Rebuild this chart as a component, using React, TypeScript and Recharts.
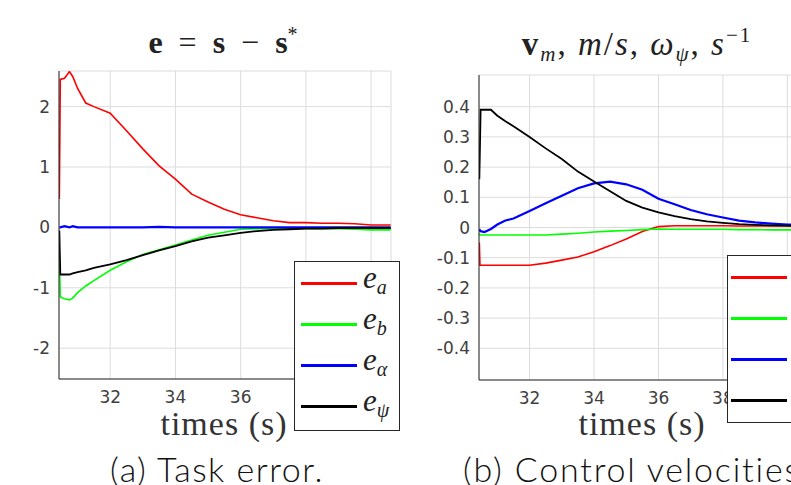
import React from "react";
import {
  LineChart,
  Line,
  XAxis,
  YAxis,
  CartesianGrid,
} from "recharts";

// task error (a)
const errTime = [30.44, 30.47, 30.6, 30.75, 30.85, 31, 31.25, 31.5, 32, 32.5, 33, 33.5, 34, 34.5, 35, 35.5, 36, 36.5, 37, 37.5, 38, 38.5, 39, 39.5, 40, 40.6];
const eA = [0.47, 2.45, 2.47, 2.58, 2.5, 2.3, 2.06, 2.0, 1.89, 1.6, 1.3, 1.02, 0.8, 0.55, 0.42, 0.3, 0.21, 0.16, 0.11, 0.08, 0.08, 0.07, 0.07, 0.06, 0.04, 0.04];
const eB = [-0.5, -1.15, -1.18, -1.2, -1.17, -1.08, -0.97, -0.88, -0.71, -0.57, -0.45, -0.37, -0.29, -0.21, -0.13, -0.08, -0.03, -0.02, -0.02, -0.02, -0.02, -0.02, -0.02, -0.03, -0.04, -0.04];
const eAlpha = [0, 0, 0.02, 0, 0.02, 0, 0, 0, 0, 0, 0, 0.01, 0, 0, 0, 0, 0, 0, 0, 0, 0, 0, 0, 0, 0, 0];
const ePsi = [-0.05, -0.78, -0.78, -0.78, -0.76, -0.74, -0.71, -0.67, -0.61, -0.54, -0.46, -0.38, -0.31, -0.23, -0.17, -0.13, -0.09, -0.06, -0.04, -0.03, -0.02, -0.02, -0.01, -0.01, -0.01, -0.01];

// control velocities (b)
const velTime = [30.44, 30.46, 30.48, 30.6, 30.8, 31, 31.25, 31.5, 32, 32.5, 33, 33.5, 34, 34.5, 35, 35.5, 36, 36.5, 37, 37.5, 38, 38.5, 39, 39.5, 40, 40.6];
const vA = [-0.05, -0.125, -0.125, -0.125, -0.125, -0.125, -0.125, -0.125, -0.125, -0.118, -0.108, -0.098, -0.08, -0.06, -0.038, -0.013, 0.003, 0.006, 0.006, 0.006, 0.006, 0.005, 0.005, 0.005, 0.005, 0.005];
const vB = [-0.02, -0.025, -0.025, -0.025, -0.025, -0.025, -0.025, -0.025, -0.025, -0.025, -0.022, -0.019, -0.015, -0.012, -0.01, -0.007, -0.005, -0.006, -0.006, -0.006, -0.006, -0.007, -0.007, -0.008, -0.008, -0.008];
const wAlpha = [-0.005, -0.01, -0.012, -0.015, -0.005, 0.01, 0.023, 0.03, 0.055, 0.08, 0.105, 0.13, 0.146, 0.152, 0.143, 0.125, 0.095, 0.077, 0.058, 0.044, 0.033, 0.023, 0.017, 0.013, 0.01, 0.009];
const wPsi = [0.16, 0.27, 0.39, 0.39, 0.39, 0.37, 0.352, 0.335, 0.3, 0.262, 0.227, 0.185, 0.152, 0.12, 0.088, 0.066, 0.05, 0.038, 0.028, 0.02, 0.015, 0.011, 0.009, 0.007, 0.006, 0.005];

const timeTicks = [32, 34, 36, 38, 40];
const errTicks = [-2, -1, 0, 1, 2];
const velTicks = [-0.4, -0.3, -0.2, -0.1, 0, 0.1, 0.2, 0.3, 0.4];

const keys = ["a", "b", "alpha", "psi"];
const colors = ["#ff0000", "#00ff00", "#0000ff", "#000000"];
const widths = [1.6, 1.6, 2.2, 1.8];
const errSubs = ["a", "b", "α", "ψ"];

const errData = errTime.map((t, i) => ({ t, a: eA[i], b: eB[i], alpha: eAlpha[i], psi: ePsi[i] }));
const velData = velTime.map((t, i) => ({ t, a: vA[i], b: vB[i], alpha: wAlpha[i], psi: wPsi[i] }));

const axisColor = "#262626";
const tickStyle = { fill: "#404040", fontSize: 17, fontFamily: "DejaVu Sans" };

interface PanelProps {
  data: any[];
  yDomain: [number, number];
  yTicks: number[];
  top: number;
  left: number;
  right: number;
  height: number;
}

const Panel: React.FC<PanelProps> = ({ data, yDomain, yTicks, top, left, right, height }) => (
  <div style={{ position: "absolute", left, top: 0 }}>
    <LineChart width={400} height={height} data={data} margin={{ top, right, left: 0, bottom: 0 }}>
      <CartesianGrid stroke="#dcdcdc" />
      <XAxis
        dataKey="t"
        type="number"
        domain={[30.43, 40.61]}
        ticks={timeTicks}
        allowDataOverflow
        height={41}
        tickLine={false}
        tickMargin={6}
        stroke={axisColor}
        tick={tickStyle}
      />
      <XAxis xAxisId="top" orientation="top" type="number" domain={[30.43, 40.61]} height={0} tick={false} tickLine={false} stroke={axisColor} />
      <YAxis
        type="number"
        domain={yDomain}
        ticks={yTicks}
        allowDataOverflow
        width={59}
        tickLine={false}
        tickMargin={3}
        stroke={axisColor}
        tick={tickStyle}
      />
      <YAxis yAxisId="right" orientation="right" type="number" domain={yDomain} width={0} tick={false} tickLine={false} stroke={axisColor} />
      {keys.map((k, i) => (
        <Line
          key={k}
          type="linear"
          dataKey={k}
          stroke={colors[i]}
          strokeWidth={widths[i]}
          dot={false}
          isAnimationActive={false}
        />
      ))}
    </LineChart>
  </div>
);

const LegendBox: React.FC<{ left: number; top: number; height: number; lineLeft: number; labels: string[] }> = ({ left, top, height, lineLeft, labels }) => (
  <div
    style={{
      position: "absolute",
      left,
      top,
      width: 106,
      height,
      border: `1px solid ${axisColor}`,
      background: "#fff",
      boxSizing: "border-box",
    }}
  >
    {colors.map((c, i) => (
      <div key={c} style={{ position: "absolute", left: lineLeft, top: 20 + i * 41 }}>
        <div style={{ position: "absolute", left: 0, top: 0, width: 56, height: 0, borderTop: `3px solid ${c}` }} />
        <div
          style={{
            position: "absolute",
            left: 62,
            top: -22,
            fontFamily: "Liberation Serif",
            fontStyle: "italic",
            fontSize: 31,
            color: "#222",
            whiteSpace: "nowrap",
          }}
        >
          e
          <span style={{ fontSize: 20, position: "relative", top: 6 }}>{labels[i]}</span>
        </div>
      </div>
    ))}
  </div>
);

const App: React.FC = () => {
  return (
    <div style={{ position: "absolute", left: 0, top: 0, width: 791, height: 485, overflow: "hidden", background: "#fff" }}>
      <Panel data={errData} yDomain={[-2.51, 2.59]} yTicks={errTicks} top={71} left={0} right={9} height={420} />
      <Panel data={velData} yDomain={[-0.505, 0.505]} yTicks={velTicks} top={75} left={420} right={13} height={421} />
      <svg width={791} height={485} style={{ position: "absolute", left: 0, top: 0, pointerEvents: "none" }}>
        <text x={223} y={53} textAnchor="middle" fontFamily="Liberation Serif" fontSize={32} fill="#222">
          <tspan fontWeight="bold">e</tspan>
          {"\u2002=\u2002"}
          <tspan fontWeight="bold">s</tspan>
          {"\u2002\u2212\u2002"}
          <tspan fontWeight="bold">s</tspan>
          <tspan fontSize={20} dy={-12}>*</tspan>
        </text>
        <text x={637} y={55} textAnchor="middle" fontFamily="Liberation Serif" fontSize={33} fill="#222" letterSpacing={2}>
          <tspan fontWeight="bold">v</tspan>
          <tspan fontStyle="italic" fontSize={21} dy={6}>m</tspan>
          <tspan dy={-6}>{", "}</tspan>
          <tspan fontStyle="italic">m</tspan>/<tspan fontStyle="italic">s</tspan>
          {", "}
          <tspan fontStyle="italic">ω</tspan>
          <tspan fontStyle="italic" fontSize={21} dy={6}>ψ</tspan>
          <tspan dy={-6}>{", "}</tspan>
          <tspan fontStyle="italic">s</tspan>
          <tspan fontSize={21} dy={-13}>−1</tspan>
        </text>
        <text x={224} y={435} textAnchor="middle" fontFamily="Liberation Serif" fontSize={34} fill="#333" letterSpacing={1}>
          times (s)
        </text>
        <text x={642} y={435} textAnchor="middle" fontFamily="Liberation Serif" fontSize={34} fill="#333" letterSpacing={1}>
          times (s)
        </text>
        <text x={217} y={482} textAnchor="middle" fontFamily="Lato" fontWeight={300} fontSize={34} fill="#111" letterSpacing={1.5}>
          (a) Task error.
        </text>
        <text x={463} y={482} textAnchor="start" fontFamily="Lato" fontWeight={300} fontSize={34} fill="#111" letterSpacing={1.8}>
          (b) Control velocities.
        </text>
      </svg>
      <LegendBox left={294} top={261} height={170} lineLeft={6} labels={errSubs} />
      <LegendBox left={727} top={255} height={168} lineLeft={3} labels={errSubs} />
    </div>
  );
};

export default App;
